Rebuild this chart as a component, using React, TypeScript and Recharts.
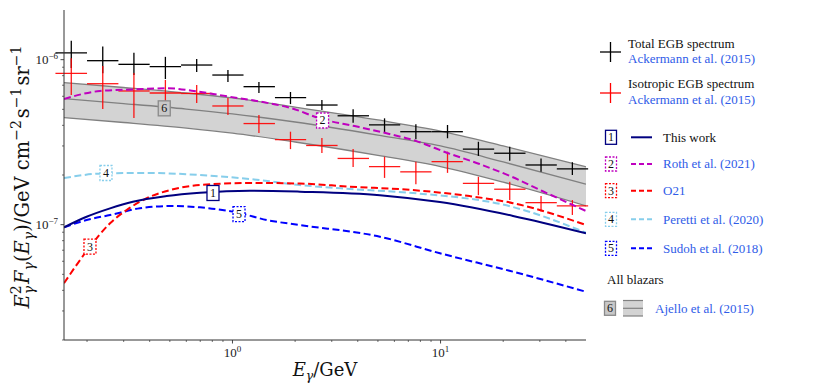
import React from "react";
import { ComposedChart, XAxis, YAxis, Line, Area, Scatter, ErrorBar } from "recharts";

const SERIF = "'Liberation Serif', 'DejaVu Serif', serif";
const MATH = "'DejaVu Serif', serif";
const LINK = "#2f5ce8";

// Ackermann et al. (2015) energy bins, GeV
const binE = [0.168, 0.238, 0.336, 0.476, 0.673, 0.951, 1.34, 1.9, 2.69, 3.8, 5.38, 7.61, 10.8, 15.2, 21.5, 30.4, 43.0];
const binLo = [0.141, 0.2, 0.283, 0.4, 0.566, 0.8, 1.13, 1.6, 2.26, 3.2, 4.53, 6.4, 9.05, 12.8, 18.1, 25.6, 36.2];
const binHi = [0.2, 0.283, 0.4, 0.566, 0.8, 1.13, 1.6, 2.26, 3.2, 4.53, 6.4, 9.05, 12.8, 18.1, 25.6, 36.2, 51.2];

// total EGB
const totalF = [1.1e-6, 9.86e-7, 9.37e-7, 9.07e-7, 9.28e-7, 8.07e-7, 6.86e-7, 5.88e-7, 5.31e-7, 4.57e-7, 4.02e-7, 3.66e-7, 3.66e-7, 2.87e-7, 2.71e-7, 2.3e-7, 2.18e-7];
const totalLo = [8.9e-7, 8.27e-7, 8.07e-7, 7.63e-7, 8.42e-7, 7.32e-7, 6.28e-7, 5.38e-7, 4.95e-7, 4.15e-7, 3.61e-7, 3.29e-7, 3.34e-7, 2.61e-7, 2.44e-7, 2.09e-7, 2.0e-7];
const totalHi = [1.3e-6, 1.2e-6, 1.1e-6, 1.04e-6, 1.01e-6, 8.66e-7, 7.32e-7, 6.37e-7, 5.69e-7, 5.0e-7, 4.41e-7, 4.06e-7, 4.02e-7, 3.18e-7, 2.97e-7, 2.52e-7, 2.39e-7];

// isotropic EGB (IGRB)
const isoF = [8.27e-7, 7.15e-7, 6.46e-7, 6.28e-7, 6.24e-7, 5.24e-7, 4.1e-7, 3.28e-7, 3.02e-7, 2.52e-7, 2.25e-7, 2.09e-7, 2.41e-7, 1.78e-7, 1.64e-7, 1.36e-7, 1.3e-7];
const isoLo = [6.11e-7, 5.02e-7, 4.43e-7, 5.02e-7, 5.46e-7, 4.62e-7, 3.59e-7, 2.87e-7, 2.72e-7, 2.24e-7, 1.92e-7, 1.76e-7, 2.06e-7, 1.51e-7, 1.41e-7, 1.2e-7, 1.145e-7];
const isoHi = [1.02e-6, 9.15e-7, 8.3e-7, 7.53e-7, 7.02e-7, 5.86e-7, 4.62e-7, 3.66e-7, 3.35e-7, 2.87e-7, 2.58e-7, 2.41e-7, 2.77e-7, 1.95e-7, 1.82e-7, 1.49e-7, 1.41e-7];

// all blazars band, Ajello et al. (2015)
const bandE = [0.155, 0.3, 0.6, 1, 2, 5, 10, 20, 50];
const bandHi = [7.25e-7, 6.78e-7, 6.28e-7, 5.86e-7, 5.16e-7, 4.31e-7, 3.69e-7, 3.0e-7, 2.24e-7];
const bandMid = [5.8e-7, 5.42e-7, 5.02e-7, 4.69e-7, 4.19e-7, 3.49e-7, 3.0e-7, 2.4e-7, 1.76e-7];
const bandLo = [4.45e-7, 4.16e-7, 3.85e-7, 3.59e-7, 3.17e-7, 2.63e-7, 2.25e-7, 1.81e-7, 1.3e-7];

// model curves
const thisWorkE = [0.155, 0.199, 0.258, 0.332, 0.483, 0.698, 1.214, 2.11, 5.11, 9.93, 22.3, 50];
const thisWorkF = [9.64e-8, 1.117e-7, 1.256e-7, 1.377e-7, 1.49e-7, 1.56e-7, 1.607e-7, 1.585e-7, 1.51e-7, 1.37e-7, 1.13e-7, 8.87e-8];

const rothE = [0.155, 0.231, 0.34, 0.484, 0.69, 0.97, 1.37, 1.93, 2.68, 3.86, 5.44, 7.66, 10.8, 15.4, 21.6, 30.8, 50];
const rothF = [5.78e-7, 6.46e-7, 6.61e-7, 6.71e-7, 6.39e-7, 5.96e-7, 5.56e-7, 5.07e-7, 4.37e-7, 3.96e-7, 3.59e-7, 3.21e-7, 2.72e-7, 2.33e-7, 1.97e-7, 1.6e-7, 1.21e-7];

const o21E = [0.155, 0.2066, 0.258, 0.31, 0.4015, 0.5008, 0.698, 1.214, 2.11, 3.67, 7.37, 13.8, 22.3, 50];
const o21F = [4.42e-8, 7.35e-8, 1.02e-7, 1.227e-7, 1.477e-7, 1.62e-7, 1.74e-7, 1.79e-7, 1.776e-7, 1.7e-7, 1.62e-7, 1.49e-7, 1.35e-7, 9.95e-8];

const perettiE = [0.155, 0.2466, 0.4015, 0.698, 1.214, 2.11, 3.67, 7.37, 22.3, 50];
const perettiF = [1.918e-7, 2.048e-7, 2.056e-7, 2.0e-7, 1.891e-7, 1.739e-7, 1.645e-7, 1.555e-7, 1.279e-7, 8.94e-8];

const sudohE = [0.155, 0.199, 0.258, 0.359, 0.5008, 0.698, 1.078, 1.46, 2.11, 5.11, 9.93, 22.3, 50];
const sudohF = [9.64e-8, 1.067e-7, 1.144e-7, 1.257e-7, 1.297e-7, 1.274e-7, 1.177e-7, 1.067e-7, 9.95e-8, 8.45e-8, 6.71e-8, 5.19e-8, 3.92e-8];

// numbered tags on the curves
const tagIds = ["1", "2", "3", "4", "5", "6"];
const tagE = [0.806, 2.71, 0.2066, 0.2466, 1.075, 0.47];
const tagF = [1.556e-7, 4.28e-7, 7.37e-8, 2.056e-7, 1.16e-7, 5.07e-7];

// ticks
const xTicks = [0.2, 0.3, 0.4, 0.5, 0.6, 0.7, 0.8, 0.9, 1, 2, 3, 4, 5, 6, 7, 8, 9, 10, 20, 30, 40];
const yTicks = [2e-8, 3e-8, 4e-8, 5e-8, 6e-8, 7e-8, 8e-8, 9e-8, 1e-7, 2e-7, 3e-7, 4e-7, 5e-7, 6e-7, 7e-7, 8e-7, 9e-7, 1e-6];

const C = {
  navy: "#000080",
  magenta: "#bf00bf",
  red: "#ff0000",
  sky: "#87ceeb",
  blue: "#0000ff",
  band: "#d3d3d3",
  bandLine: "#808080",
};

const tagStyle: Record<string, { stroke: string; fill: string; dash?: string }> = {
  "1": { stroke: C.navy, fill: "#fff" },
  "2": { stroke: C.magenta, fill: "#fff", dash: "2 1.5" },
  "3": { stroke: C.red, fill: "#fff", dash: "2 1.5" },
  "4": { stroke: C.sky, fill: "#fff", dash: "2 1.5" },
  "5": { stroke: C.blue, fill: "#fff", dash: "2 1.5" },
  "6": { stroke: "#8a8a8a", fill: "#c8c8c8" },
};

const crossRows = (F: number[], lo: number[], hi: number[]) =>
  binE.map((E, i) => ({
    E,
    F: F[i],
    ex: [E - binLo[i], binHi[i] - E],
    ey: [F[i] - lo[i], hi[i] - F[i]],
  }));

const curve = (E: number[], F: number[]) => E.map((e, i) => ({ E: e, F: F[i] }));

const bandRows = bandE.map((E, i) => ({
  E,
  lo: bandLo[i],
  mid: bandMid[i],
  hi: bandHi[i],
  range: [bandLo[i], bandHi[i]],
}));

const isDecade = (v: number) => Math.abs(Math.log10(v) - Math.round(Math.log10(v))) < 1e-6;
const expText = (v: number) => String(Math.round(Math.log10(v))).replace("-", "\u2212");

const serifStyle = { fontFamily: SERIF };
const mathStyle = { fontFamily: MATH };

function XTick(props: any) {
  const { x, y, payload } = props;
  const v = payload.value;
  const major = isDecade(v);
  return (
    <g>
      <line x1={x} x2={x} y1={y} y2={y + (major ? 3.5 : 2)} stroke="#333" strokeWidth={major ? 0.9 : 0.7} />
      {major && (
        <text x={x} y={y + 17} textAnchor="middle" style={serifStyle} fontSize={13} fill="#222">
          10
          <tspan fontSize={9} dy={-5}>
            {expText(v)}
          </tspan>
        </text>
      )}
    </g>
  );
}

function YTick(props: any) {
  const { x, y, payload } = props;
  const v = payload.value;
  const major = isDecade(v);
  return (
    <g>
      <line x1={x - (major ? 3.5 : 2)} x2={x} y1={y} y2={y} stroke="#333" strokeWidth={major ? 0.9 : 0.7} />
      {major && (
        <text x={x - 6} y={y + 4} textAnchor="end" style={serifStyle} fontSize={13} fill="#222">
          10
          <tspan fontSize={9} dy={-5}>
            {expText(v)}
          </tspan>
        </text>
      )}
    </g>
  );
}

function XLabel(props: any) {
  const vb = props.viewBox || { x: 64, y: 340, width: 522, height: 30 };
  return (
    <text x={vb.x + vb.width / 2} y={vb.y + 36} textAnchor="middle" style={mathStyle} fontSize={18} fill="#111">
      <tspan fontStyle="italic">E</tspan>
      <tspan fontStyle="italic" fontSize={12.5} dy={4}>
        γ
      </tspan>
      <tspan dy={-4}>/GeV</tspan>
    </text>
  );
}

function YLabel(props: any) {
  const vb = props.viewBox || { x: 8, y: 10, width: 56, height: 330 };
  const x = vb.x + 21;
  const y = vb.y + vb.height / 2 + 2;
  return (
    <text
      x={x}
      y={y}
      transform={`rotate(-90 ${x} ${y})`}
      textAnchor="middle"
      style={mathStyle}
      fontSize={19.5}
      fill="#111"
    >
      <tspan fontStyle="italic">E</tspan>
      <tspan fontSize={14} dy={-8}>2</tspan>
      <tspan fontSize={14} fontStyle="italic" dx={-9} dy={13}>γ</tspan>
      <tspan fontStyle="italic" dx={2} dy={-5}>F</tspan>
      <tspan fontSize={14} fontStyle="italic" dy={5}>γ</tspan>
      <tspan dy={-5}>(</tspan>
      <tspan fontStyle="italic">E</tspan>
      <tspan fontSize={14} fontStyle="italic" dy={5}>γ</tspan>
      <tspan dy={-5}>)/GeV cm</tspan>
      <tspan fontSize={14} dy={-8}>−2</tspan>
      <tspan dx={2} dy={8}>s</tspan>
      <tspan fontSize={14} dy={-8}>−1</tspan>
      <tspan dx={2} dy={8}>sr</tspan>
      <tspan fontSize={14} dy={-8}>−1</tspan>
    </text>
  );
}

const noMarker = () => <g />;

function TagShape(props: any) {
  const { cx, cy, payload } = props;
  const s = tagStyle[payload.id];
  return (
    <g>
      <rect x={cx - 6} y={cy - 7.5} width={12} height={15} fill={s.fill} stroke={s.stroke} strokeWidth={1.3} strokeDasharray={s.dash} />
      <text x={cx} y={cy + 4} textAnchor="middle" style={serifStyle} fontSize={12} fill="#111">
        {payload.id}
      </text>
    </g>
  );
}

function Tag({ x, y, id }: { x: number; y: number; id: string }) {
  const s = tagStyle[id];
  return (
    <g>
      <rect x={x - 5.5} y={y - 7} width={11} height={14} fill={s.fill} stroke={s.stroke} strokeWidth={1.3} strokeDasharray={s.dash} />
      <text x={x} y={y + 4} textAnchor="middle" style={serifStyle} fontSize={12} fill="#111">
        {id}
      </text>
    </g>
  );
}

const legendModels = [
  { id: "1", name: "This work", color: C.navy, dash: undefined as string | undefined, link: false },
  { id: "2", name: "Roth et al. (2021)", color: C.magenta, dash: "5 3", link: true },
  { id: "3", name: "O21", color: C.red, dash: "5 3", link: true },
  { id: "4", name: "Peretti et al. (2020)", color: C.sky, dash: "5 3", link: true },
  { id: "5", name: "Sudoh et al. (2018)", color: C.blue, dash: "5 3", link: true },
];
const legendRowY = [137.3, 164, 190.7, 219.3, 248.3];

function LegendPanel() {
  return (
    <svg width={830} height={388} style={{ position: "absolute", left: 0, top: 0, pointerEvents: "none" }}>
      <g style={serifStyle} fontSize={13}>
        <line x1={600} x2={621} y1={52} y2={52} stroke="#000" strokeWidth={1.3} />
        <line x1={610.5} x2={610.5} y1={42} y2={62} stroke="#000" strokeWidth={1.3} />
        <text x={628} y={47.6} fill="#111">Total EGB spectrum</text>
        <text x={628} y={62.6} fill={LINK}>Ackermann et al. (2015)</text>

        <line x1={600} x2={621} y1={93} y2={93} stroke={C.red} strokeWidth={1.3} />
        <line x1={610.5} x2={610.5} y1={83} y2={103} stroke={C.red} strokeWidth={1.3} />
        <text x={628} y={87.6} fill="#111">Isotropic EGB spectrum</text>
        <text x={628} y={104.3} fill={LINK}>Ackermann et al. (2015)</text>

        {legendModels.map((m, i) => (
          <g key={m.id}>
            <Tag x={611} y={legendRowY[i]} id={m.id} />
            <line x1={631} x2={652} y1={legendRowY[i]} y2={legendRowY[i]} stroke={m.color} strokeWidth={2} strokeDasharray={m.dash} />
            <text x={663} y={legendRowY[i] + 4.3} fill={m.link ? LINK : "#111"}>
              {m.name}
            </text>
          </g>
        ))}

        <text x={607} y={284.3} fill="#111">All blazars</text>
        <Tag x={610} y={308.3} id="6" />
        <rect x={623} y={300.5} width={20} height={15.5} fill={C.band} />
        <line x1={623} x2={643} y1={300.5} y2={300.5} stroke={C.bandLine} strokeWidth={1.2} />
        <line x1={623} x2={643} y1={308.3} y2={308.3} stroke={C.bandLine} strokeWidth={1.2} />
        <line x1={623} x2={643} y1={316} y2={316} stroke={C.bandLine} strokeWidth={1.2} />
        <text x={655} y={312.6} fill={LINK}>Ajello et al. (2015)</text>
      </g>
    </svg>
  );
}

export default function App() {
  const totalRows = crossRows(totalF, totalLo, totalHi);
  const isoRows = crossRows(isoF, isoLo, isoHi);
  const tagRows = tagIds.map((id, i) => ({ id, E: tagE[i], F: tagF[i] }));

  const dashed = { strokeWidth: 2, strokeDasharray: "7 3.5", dot: false, activeDot: false, isAnimationActive: false, type: "monotone" as const };

  return (
    <div style={{ position: "absolute", left: 0, top: 0, width: 830, height: 388, background: "#fff" }}>
      <ComposedChart width={830} height={388} data={bandRows} margin={{ top: 10, right: 244, bottom: 18, left: 8 }}>
        <XAxis
          dataKey="E"
          type="number"
          scale="log"
          domain={[0.155, 50]}
          allowDataOverflow
          ticks={xTicks}
          interval={0}
          tick={(p: any) => <XTick {...p} />}
          tickLine={false}
          tickSize={0}
          tickMargin={0}
          height={30}
          axisLine={{ stroke: "#333", strokeWidth: 1 }}
          label={{ content: (p: any) => <XLabel {...p} /> }}
        />
        <YAxis
          type="number"
          scale="log"
          domain={[2e-8, 2e-6]}
          allowDataOverflow
          ticks={yTicks}
          interval={0}
          tick={(p: any) => <YTick {...p} />}
          tickLine={false}
          tickSize={0}
          tickMargin={0}
          width={56}
          axisLine={{ stroke: "#333", strokeWidth: 1 }}
          label={{ content: (p: any) => <YLabel {...p} /> }}
        />
        <XAxis xAxisId="top" orientation="top" type="number" domain={[0, 1]} height={0} tick={false} tickLine={false} axisLine={{ stroke: "#8c8c8c" }} />
        <YAxis yAxisId="right" orientation="right" type="number" domain={[0, 1]} width={0} tick={false} tickLine={false} axisLine={{ stroke: "#8c8c8c" }} />

        <Area dataKey="range" type="monotone" fill={C.band} fillOpacity={1} stroke="none" isAnimationActive={false} activeDot={false} />
        <Line dataKey="hi" type="monotone" stroke={C.bandLine} strokeWidth={1.3} dot={false} activeDot={false} isAnimationActive={false} />
        <Line dataKey="mid" type="monotone" stroke={C.bandLine} strokeWidth={1.3} dot={false} activeDot={false} isAnimationActive={false} />
        <Line dataKey="lo" type="monotone" stroke={C.bandLine} strokeWidth={1.3} dot={false} activeDot={false} isAnimationActive={false} />

        <Scatter data={totalRows} dataKey="F" shape={noMarker} isAnimationActive={false}>
          <ErrorBar dataKey="ex" direction="x" width={0} stroke="#000" strokeWidth={1.3} />
          <ErrorBar dataKey="ey" direction="y" width={0} stroke="#000" strokeWidth={1.3} />
        </Scatter>
        <Scatter data={isoRows} dataKey="F" shape={noMarker} isAnimationActive={false}>
          <ErrorBar dataKey="ex" direction="x" width={0} stroke={C.red} strokeOpacity={0.9} strokeWidth={1.3} />
          <ErrorBar dataKey="ey" direction="y" width={0} stroke={C.red} strokeOpacity={0.9} strokeWidth={1.3} />
        </Scatter>

        <Line data={curve(sudohE, sudohF)} dataKey="F" stroke={C.blue} {...dashed} />
        <Line data={curve(perettiE, perettiF)} dataKey="F" stroke={C.sky} {...dashed} />
        <Line data={curve(o21E, o21F)} dataKey="F" stroke={C.red} {...dashed} />
        <Line data={curve(thisWorkE, thisWorkF)} dataKey="F" stroke={C.navy} strokeWidth={2} type="monotone" dot={false} activeDot={false} isAnimationActive={false} />
        <Line data={curve(rothE, rothF)} dataKey="F" stroke={C.magenta} {...dashed} />

        <Scatter data={tagRows} dataKey="F" shape={(p: any) => <TagShape {...p} />} isAnimationActive={false} />
      </ComposedChart>
      <LegendPanel />
    </div>
  );
}
